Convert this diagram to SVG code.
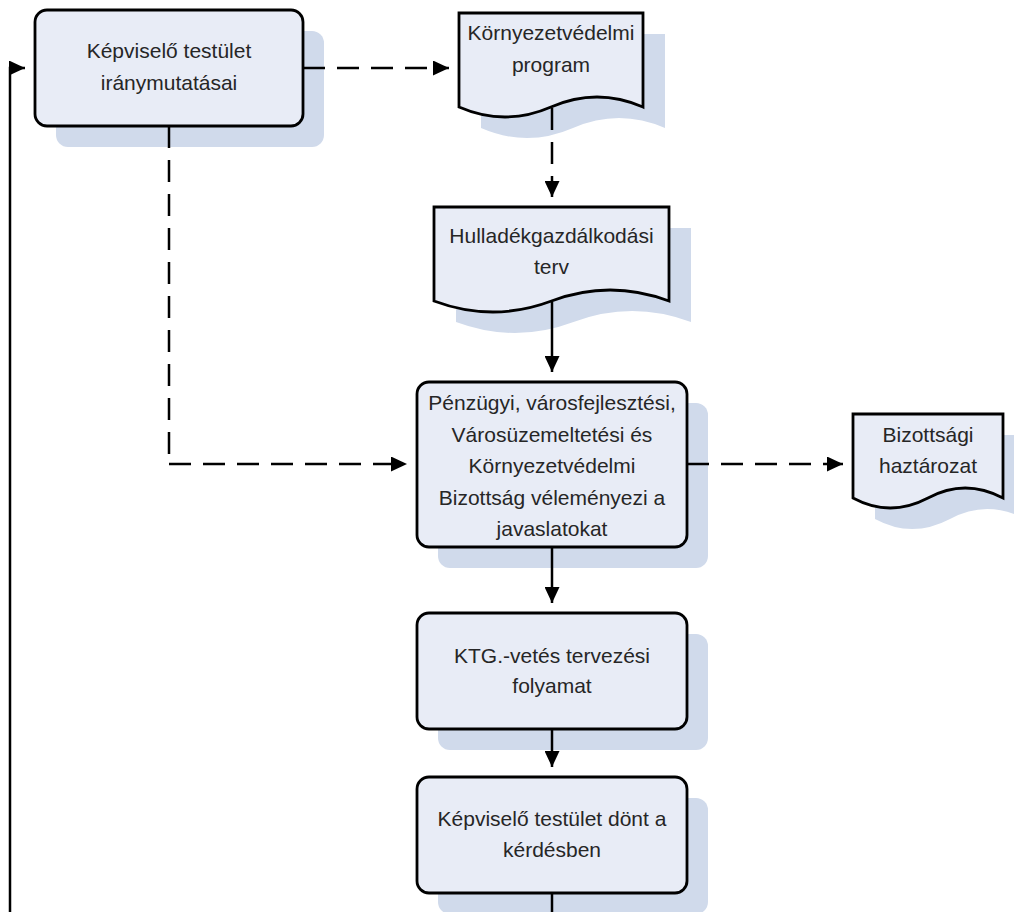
<svg xmlns="http://www.w3.org/2000/svg" width="1014" height="912" viewBox="0 0 1014 912">
<style>
.shadow{fill:#D0DAEB;stroke:none}
.box{fill:#E8ECF6;stroke:#000;stroke-width:2.8}
.t{font-family:"Liberation Sans",Arial,sans-serif;font-size:21px;fill:#262626;text-anchor:middle}
.c{fill:none;stroke:#000;stroke-width:2.5}
.d{stroke-dasharray:22 12}
</style>
<defs>
<marker id="ah" markerUnits="userSpaceOnUse" viewBox="0 0 16 15" refX="16" refY="7.5" markerWidth="16" markerHeight="15" orient="auto">
<path d="M0,0 L16,7.5 L0,15 Z" fill="#000"/>
</marker>
</defs>
<rect width="1014" height="912" fill="#fff"/>

<g id="n1">
<rect class="shadow" x="56" y="31" width="268" height="116" rx="12"/>
<rect class="box" x="35" y="10" width="268" height="116" rx="12"/>
<text class="t" x="169" y="58">Képviselő testület</text>
<text class="t" x="169" y="90">iránymutatásai</text>
</g>

<g id="n2">
<path class="shadow" d="M481,34 H665 V128 Q619,108 573,128 Q527,148 481,128 Z"/>
<path class="box" d="M459,13 H643 V107 Q597,87 551,107 Q505,127 459,107 Z"/>
<text class="t" x="551" y="40">Környezetvédelmi</text>
<text class="t" x="551" y="72">program</text>
</g>

<g id="n3">
<path class="shadow" d="M456,228 H691 V322 Q632,300 573.5,322 Q515,344 456,322 Z"/>
<path class="box" d="M434,207 H669 V301 Q610,279 551.5,301 Q493,323 434,301 Z"/>
<text class="t" x="551.5" y="243">Hulladékgazdálkodási</text>
<text class="t" x="551.5" y="274">terv</text>
</g>

<g id="n4">
<rect class="shadow" x="438" y="403" width="270" height="165" rx="12"/>
<rect class="box" x="417" y="382" width="270" height="165" rx="12"/>
<text class="t" x="552" y="410">Pénzügyi, városfejlesztési,</text>
<text class="t" x="552" y="442">Városüzemeltetési és</text>
<text class="t" x="552" y="473">Környezetvédelmi</text>
<text class="t" x="552" y="505">Bizottság véleményezi a</text>
<text class="t" x="552" y="536">javaslatokat</text>
</g>

<g id="n5">
<path class="shadow" d="M875,435 H1025 V519 Q987,499 950,519 Q912,539 875,519 Z"/>
<path class="box" d="M853,414 H1003 V498 Q965,478 928,498 Q890,518 853,498 Z"/>
<text class="t" x="928" y="442">Bizottsági</text>
<text class="t" x="928" y="473">haztározat</text>
</g>

<g id="n6">
<rect class="shadow" x="438" y="634" width="270" height="116" rx="12"/>
<rect class="box" x="417" y="613" width="270" height="116" rx="12"/>
<text class="t" x="552" y="663">KTG.-vetés tervezési</text>
<text class="t" x="552" y="693">folyamat</text>
</g>

<g id="n7">
<rect class="shadow" x="438" y="798" width="270" height="116" rx="12"/>
<rect class="box" x="417" y="777" width="270" height="116" rx="12"/>
<text class="t" x="552" y="826">Képviselő testület dönt a</text>
<text class="t" x="552" y="857">kérdésben</text>
</g>

<g id="connectors">
<path class="c d" d="M303,68 H449" marker-end="url(#ah)"/>
<path class="c d" d="M552,108 V197" marker-end="url(#ah)"/>
<path class="c" d="M552,302 V372" marker-end="url(#ah)"/>
<path class="c d" d="M169,126 V464"/>
<path class="c d" d="M169,464 H407" marker-end="url(#ah)"/>
<path class="c d" d="M687,464 H843" marker-end="url(#ah)"/>
<path class="c" d="M552,547 V603" marker-end="url(#ah)"/>
<path class="c" d="M552,729 V767" marker-end="url(#ah)"/>
<path class="c" d="M552,893 V912"/>
<path class="c" d="M10,912 V68 H25" marker-end="url(#ah)"/>
</g>
</svg>
